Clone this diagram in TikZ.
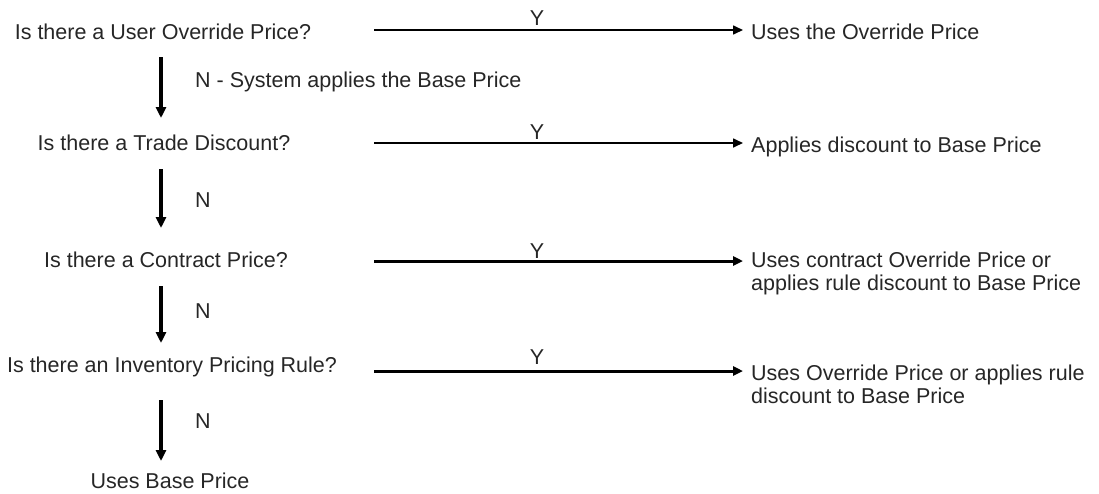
\documentclass[tikz,border=0pt]{standalone}
\usepackage{fontspec}
\setmainfont{Liberation Sans}
\usetikzlibrary{arrows.meta}
\begin{document}
\begin{tikzpicture}[x=1pt,y=-1pt,
  every node/.style={font=\fontsize{21.5}{23}\selectfont, inner sep=0pt, text=black!85},
  qtext/.style={anchor=center},
  atext/.style={anchor=west, align=left, inner xsep=8pt},
  thinarrow/.style={line width=1.6pt, -{Triangle[length=10pt,width=9pt]}},
  thickarrow/.style={line width=3pt, -{Triangle[length=10pt,width=9pt]}},
  downarrow/.style={line width=3.3pt, -{Triangle[length=11pt,width=10pt]}},
  lbl/.style={anchor=west}
]
\useasboundingbox (0,0) rectangle (1099,493);
% questions
\node[qtext] (q1) at (163,32) {Is there a User Override Price?};
\node[qtext] (q2) at (164,143) {Is there a Trade Discount?};
\node[qtext] (q3) at (166,260) {Is there a Contract Price?};
\node[qtext] (q4) at (172,367) {Is there an Inventory Pricing Rule?};
\node[qtext] (q5) at (170,481) {Uses Base Price};
% answers
\node[atext] (a1) at (743,32) {Uses the Override Price};
\node[atext] (a2) at (743,147) {Applies discount to Base Price};
\node[atext] (a3) at (743,273) {Uses contract Override Price or\\applies rule discount to Base Price};
\node[atext] (a4) at (743,384) {Uses Override Price or applies rule\\discount to Base Price};
% start points of horizontal arrows
\coordinate (s1) at (374,30);
\coordinate (s2) at (374,143);
\coordinate (s3) at (374,261);
\coordinate (s4) at (374,371);
\draw[thinarrow] (s1) -- (s1 -| a1.west);
\draw[thinarrow] (s2) -- (s2 -| a2.west);
\draw[thickarrow] (s3) -- (s3 -| a3.west);
\draw[thickarrow] (s4) -- (s4 -| a4.west);
\node (y1) at (537,18) {Y};
\node (y2) at (537,132) {Y};
\node (y3) at (537,251) {Y};
\node (y4) at (537,357) {Y};
% vertical arrows
\coordinate (v1a) at (161,57);  \coordinate (v1b) at (161,118);
\coordinate (v2a) at (161,169); \coordinate (v2b) at (161,228);
\coordinate (v3a) at (161,286); \coordinate (v3b) at (161,343);
\coordinate (v4a) at (161,400); \coordinate (v4b) at (161,461);
\draw[downarrow] (v1a) -- (v1b);
\draw[downarrow] (v2a) -- (v2b);
\draw[downarrow] (v3a) -- (v3b);
\draw[downarrow] (v4a) -- (v4b);
\node[lbl] (n1) at (195,82) {N - System applies the Base Price};
\node[lbl] (n2) at (195,200) {N};
\node[lbl] (n3) at (195,311) {N};
\node[lbl] (n4) at (195,421) {N};
\end{tikzpicture}
\end{document}
